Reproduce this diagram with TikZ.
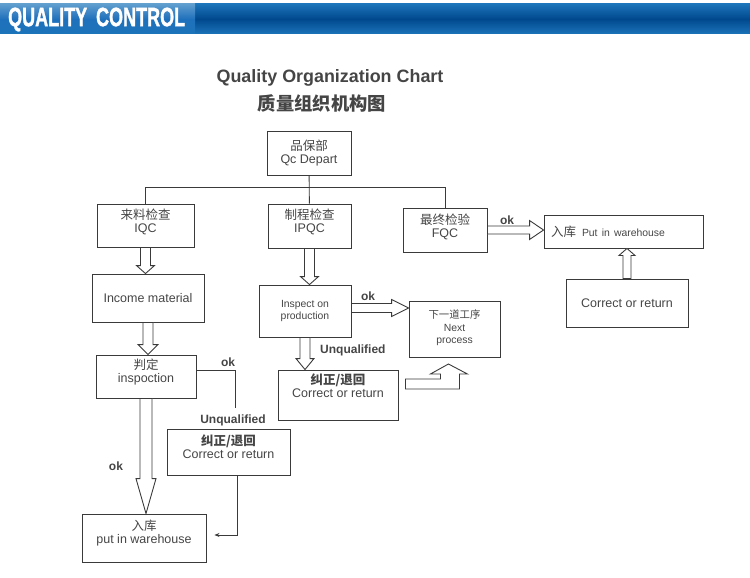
\documentclass[tikz,border=0pt]{standalone}
\usepackage{fontspec}
\setmainfont{Liberation Sans}
\newfontfamily\cjk{Noto Sans CJK SC}
\usetikzlibrary{calc,arrows.meta}
\definecolor{linegray}{HTML}{3A3A3A}
\definecolor{textgray}{HTML}{454545}
\definecolor{bardark}{HTML}{00488E}
\definecolor{barlight}{HTML}{1C74B9}
\definecolor{barleft}{HTML}{1F70BC}
\newcommand\boxfont{\fontsize{12.5}{13}\selectfont\lineskiplimit=-20pt}
\newcommand\smallfont{\fontsize{10.4}{12.5}\selectfont\lineskiplimit=-20pt}
\newcommand\hollowarrow[5]{%
	\coordinate (ha) at ($(#2)!#5pt!(#1)$);
	\draw[hollow] ($(#1)!#3pt!90:(#2)$) -- ($(ha)!#3pt!90:(#2)$) -- ($(ha)!#4pt!90:(#2)$) -- (#2)
		-- ($(ha)!#4pt!-90:(#2)$) -- ($(ha)!#3pt!-90:(#2)$) -- ($(#1)!#3pt!-90:(#2)$) -- cycle;}
\tikzset{
	box/.style = {draw = linegray, line width = 0.9pt, inner sep = 0pt},
	boxtext/.style = {align = center, text = textgray, font = \boxfont, inner sep = 0pt},
	txt/.style 2 args = {label = {[boxtext, yshift = #1]center:#2}},
	smalltxt/.style 2 args = {label = {[boxtext, font = \smallfont, yshift = #1]center:#2}},
	hollow/.style = {draw = linegray, line width = 0.9pt, fill = white, line join = miter},
	conn/.style = {draw = linegray, line width = 0.9pt},
	lbl/.style = {font = \bfseries\fontsize{12}{14}\selectfont, text = textgray, inner sep = 0pt}
}
\begin{document}
\begin{tikzpicture}[x = 1pt, y = -1pt]
	\useasboundingbox (0,0) rectangle (750,578);
	\shade[top color = barlight, bottom color = barlight, middle color = bardark] (0,4) rectangle (750,34);
	\shade[top color = barlight!70!white, bottom color = barlight, middle color = barleft] (0,4) rectangle (195,34);
	\node[anchor = west, text = white, font = \bfseries\fontsize{26.5}{26.5}\selectfont\addfontfeature{FakeBold=1.5}, xscale = 0.68, inner sep = 0pt] (banner) at (8,19.5) {QUALITY\hspace{13pt}CONTROL};
	\node[anchor = base, text = textgray, font = \bfseries\fontsize{17.9}{20}\selectfont] (title) at (330,83) {Quality Organization Chart};
	\node[text = textgray, font = \cjk\bfseries\fontsize{18.3}{20}\selectfont] (subtitle) at (322,103) {质量组织机构图};

	\node[box, minimum width = 84, minimum height = 44, txt = {0pt}{{\cjk 品保部}\\Qc Depart}] (qc) at (309,153) {};
	\node[box, minimum width = 97, minimum height = 43, txt = {4pt}{{\cjk 来料检查}\\IQC}] (iqc) at (145.5,225.5) {};
	\node[box, minimum width = 83, minimum height = 44, txt = {4pt}{{\cjk 制程检查}\\IPQC}] (ipqc) at (309.5,226) {};
	\node[box, minimum width = 84, minimum height = 44, txt = {3pt}{{\cjk 最终检验}\\FQC}] (fqc) at (445,230) {};
	\node[box, minimum width = 159, minimum height = 33, text width = 145, align = left, text = textgray, font = \boxfont] (store1) at (623.5,231.5) {{\cjk 入库}\hspace{6pt}{\smallfont Put in warehouse}};
	\node[box, minimum width = 122, minimum height = 48, txt = {0pt}{Correct or return}] (retfqc) at (627,303) {};
	\node[box, minimum width = 112, minimum height = 48, txt = {0pt}{Income material}] (income) at (148,298) {};
	\node[box, minimum width = 92, minimum height = 52, smalltxt = {0pt}{Inspect on\\production}] (inspect) at (305,311) {};
	\node[box, minimum width = 100, minimum height = 43, txt = {4.5pt}{{\cjk 判定}\\inspoction}] (judge) at (146,376.5) {};
	\node[box, minimum width = 91, minimum height = 56, smalltxt = {1pt}{{\cjk 下一道工序}\\Next\\process}] (next) at (454.5,329) {};
	\node[box, minimum width = 120, minimum height = 50, txt = {9pt}{{\cjk\bfseries 纠正/退回}\\Correct or return}] (fix1) at (338,395) {};
	\node[box, minimum width = 123, minimum height = 46, txt = {5pt}{{\cjk\bfseries 纠正/退回}\\Correct or return}] (fix2) at (228.5,452) {};
	\node[box, minimum width = 124, minimum height = 48, txt = {4.5pt}{{\cjk 入库}\\put in warehouse}] (store2) at (144,538) {};

	\draw[conn] (qc) -- (ipqc);
	\draw[conn] (iqc.north) -- ++(0,-16) -| (fqc.north);
	\hollowarrow{iqc.south}{iqc.south |- income.north}{5}{9}{8}
	\hollowarrow{income.south}{income.south |- judge.north}{5}{10}{10}
	\hollowarrow{judge.south}{judge.south |- store2.north}{6}{10}{35}
	\draw[conn] ([yshift=6pt]judge.east) -| ([xshift=6.5pt,yshift=21pt]fix2.north);
	\draw[conn, -{Stealth[length=5pt,width=4pt]}] ([xshift=8.5pt]fix2.south) |- ([xshift=8pt,yshift=3pt]store2.east);
	\hollowarrow{ipqc.south}{ipqc.south |- inspect.north}{5}{9}{8}
	\coordinate (okstart) at ([yshift=3pt]inspect.east);
	\hollowarrow{okstart}{okstart -| next.west}{4.5}{8.5}{17}
	\hollowarrow{inspect.south}{inspect.south |- fix1.north}{5}{9}{11}
	\draw[hollow] ([xshift=7pt,yshift=16pt]fix1.east) -- ++(35,0) -- ++(0,-5) -- ++(-10,0) -- ++(18,-10) -- ++(19,10) -- ++(-8,0) -- ++(0,15) -- ++(-54,0) -- cycle;
	\hollowarrow{fqc.east}{fqc.east -| store1.west}{4}{9.5}{14}
	\hollowarrow{retfqc.north}{retfqc.north |- store1.south}{4}{8}{7}

	\node[lbl] (ok1) at (507,220) {ok};
	\node[lbl] (ok2) at (368,296) {ok};
	\node[lbl, anchor = west] (unq1) at (320,350) {Unqualified};
	\node[lbl] (ok3) at (228,362) {ok};
	\node[lbl] (unq2) at (233,420) {Unqualified};
	\node[lbl] (ok4) at (116,466) {ok};
\end{tikzpicture}
\end{document}
